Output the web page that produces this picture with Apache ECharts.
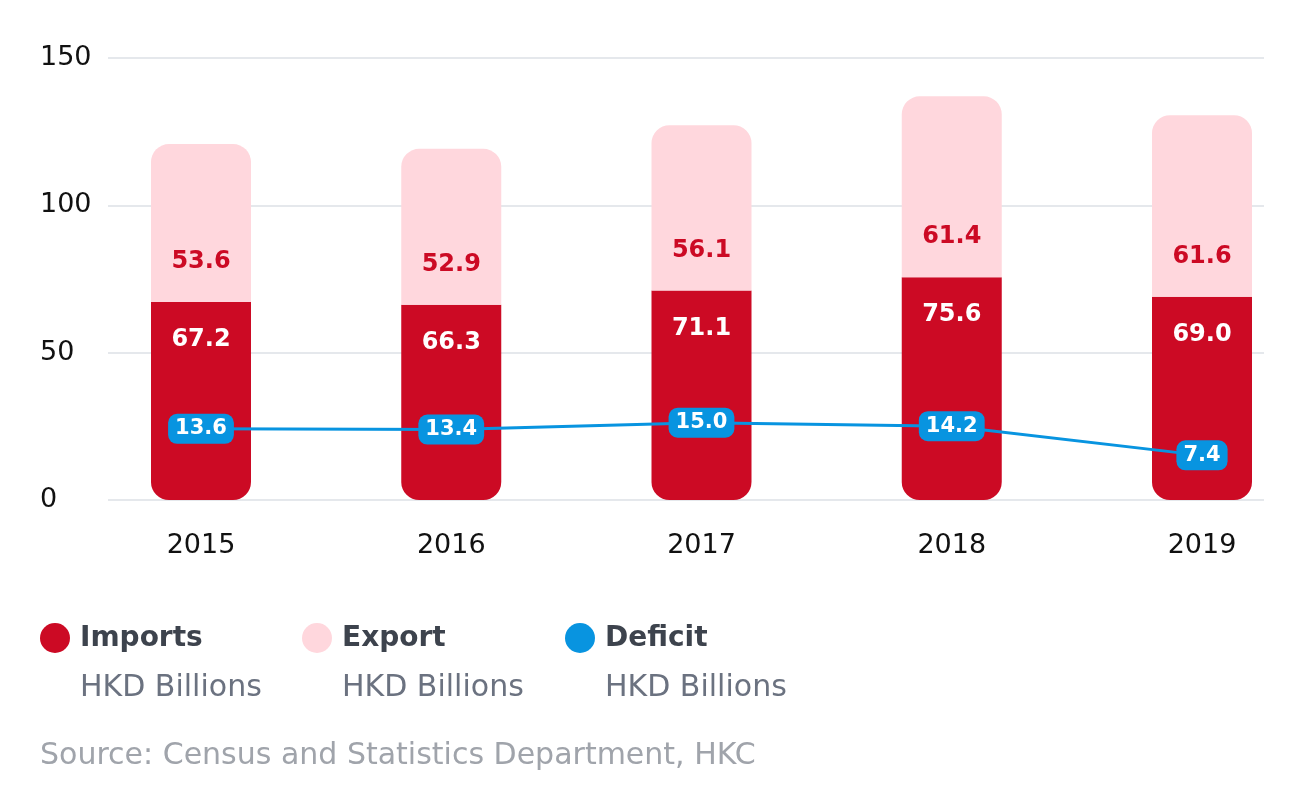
<!DOCTYPE html>
<html>
<head>
<meta charset="utf-8">
<script src="https://cdn.jsdelivr.net/npm/echarts@6/dist/echarts.min.js"></script>
<style>
html,body{margin:0;padding:0;background:#fff;}
#chart{width:1304px;height:785px;}
</style>
</head>
<body>
<div id="chart"></div>
<script>
const years = ['2015', '2016', '2017', '2018', '2019'];
const imports = [67.2, 66.3, 71.1, 75.6, 69.0];
const exportsData = [53.6, 52.9, 56.1, 61.4, 61.6];
const deficit = [13.6, 13.4, 15.0, 14.2, 7.4];
const yTicks = [0, 50, 100, 150];

const FONT = "'DejaVu Sans', sans-serif";
const RED = '#cc0a24', PINK = '#ffd7dd', BLUE = '#0894e0';

const chart = echarts.init(document.getElementById('chart'), null, {renderer: 'canvas'});
chart.setOption({
  animation: false,
  textStyle: {fontFamily: FONT},
  grid: [
    {left: 108, right: 40, top: 58, bottom: 285},
    {left: 201, right: 102, top: 58, bottom: 285}
  ],
  xAxis: [
    {gridIndex: 0, type: 'category', data: years, show: false},
    {gridIndex: 1, type: 'category', data: years, boundaryGap: false,
     axisLine: {show: false}, axisTick: {show: false},
     axisLabel: {margin: 32, fontSize: 27, color: '#111', fontFamily: FONT}}
  ],
  yAxis: [
    {gridIndex: 0, type: 'value', min: yTicks[0], max: yTicks[yTicks.length - 1], interval: 50,
     axisLine: {show: false}, axisTick: {show: false},
     splitLine: {lineStyle: {color: '#e5e8ec', width: 2}},
     axisLabel: {align: 'left', margin: 68, fontSize: 27, color: '#111', fontFamily: FONT}},
    {gridIndex: 1, type: 'value', min: 0, max: 150, show: false},
    {gridIndex: 1, type: 'value', min: -3, max: 100, show: false}
  ],
  series: [
    {name: 'Imports', type: 'bar', xAxisIndex: 1, yAxisIndex: 1, stack: 'trade',
     data: imports, barWidth: 100, clip: false,
     itemStyle: {color: RED, borderRadius: [0, 0, 18, 18]},
     label: {show: true, position: 'insideTop', distance: 26, color: '#fff',
             fontSize: 24, fontWeight: 'bold', fontFamily: FONT,
             formatter: p => p.value.toFixed(1)}},
    {name: 'Export', type: 'bar', xAxisIndex: 1, yAxisIndex: 1, stack: 'trade',
     data: exportsData, barWidth: 100, clip: false,
     itemStyle: {color: PINK, borderRadius: [18, 18, 0, 0]},
     label: {show: true, position: 'insideBottom', distance: 28, color: RED,
             fontSize: 24, fontWeight: 'bold', fontFamily: FONT,
             formatter: p => p.value.toFixed(1)}},
    {name: 'Deficit', type: 'line', xAxisIndex: 1, yAxisIndex: 2,
     data: deficit, smooth: false, symbol: 'circle', symbolSize: 1, clip: false,
     lineStyle: {color: BLUE, width: 3}, itemStyle: {color: BLUE},
     z: 5,
     label: {show: true, position: 'inside', color: '#fff', fontSize: 21,
             fontWeight: 'bold', fontFamily: FONT, backgroundColor: BLUE,
             borderRadius: 9, padding: [5, 7, 4, 7],
             formatter: p => p.value.toFixed(1)}}
  ],
  graphic: [
    {type: 'circle', shape: {cx: 55, cy: 638, r: 15}, style: {fill: RED}},
    {type: 'text', x: 80, y: 639, style: {text: 'Imports', fill: '#3d434d', font: "bold 28px " + FONT, verticalAlign: 'middle'}},
    {type: 'text', x: 80, y: 688, style: {text: 'HKD Billions', fill: '#6b7280', font: "30px " + FONT, verticalAlign: 'middle'}},
    {type: 'circle', shape: {cx: 317, cy: 638, r: 15}, style: {fill: PINK}},
    {type: 'text', x: 342, y: 639, style: {text: 'Export', fill: '#3d434d', font: "bold 28px " + FONT, verticalAlign: 'middle'}},
    {type: 'text', x: 342, y: 688, style: {text: 'HKD Billions', fill: '#6b7280', font: "30px " + FONT, verticalAlign: 'middle'}},
    {type: 'circle', shape: {cx: 580, cy: 638, r: 15}, style: {fill: BLUE}},
    {type: 'text', x: 605, y: 639, style: {text: 'Deficit', fill: '#3d434d', font: "bold 28px " + FONT, verticalAlign: 'middle'}},
    {type: 'text', x: 605, y: 688, style: {text: 'HKD Billions', fill: '#6b7280', font: "30px " + FONT, verticalAlign: 'middle'}},
    {type: 'text', x: 40, y: 756, style: {text: 'Source: Census and Statistics Department, HKC', fill: '#a0a4ab', font: "30px " + FONT, verticalAlign: 'middle'}}
  ]
});
</script>
</body>
</html>
